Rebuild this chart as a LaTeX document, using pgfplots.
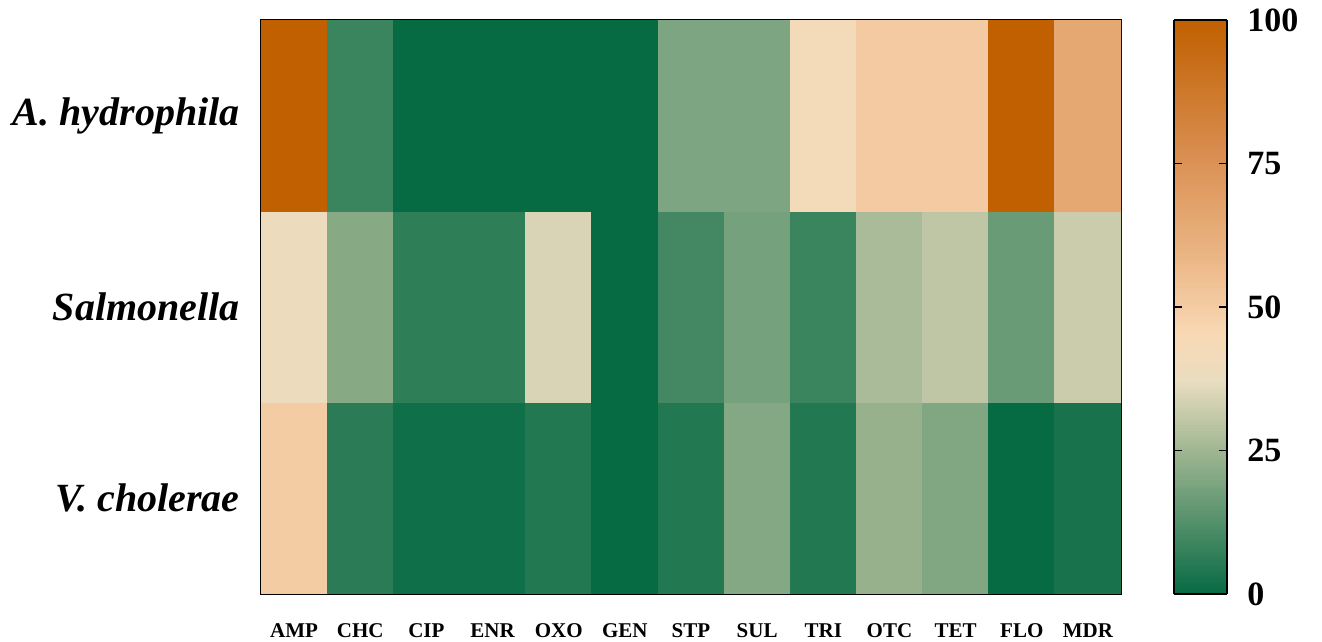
\documentclass[border=0pt]{standalone}
\usepackage{fontspec}
\setmainfont{Liberation Serif}
\usepackage{pgfplots}
\usepackage{pgfplotstable}
\pgfplotsset{compat=1.18}
% x = antibiotic index, y = row (0 = V. cholerae, 1 = Salmonella, 2 = A. hydrophila), c = value (%)
\pgfplotstableread{
x y c
0 0 50
1 0 6
2 0 1.5
3 0 1.5
4 0 4.5
5 0 0
6 0 4.5
7 0 20.5
8 0 4.5
9 0 23.5
10 0 20
11 0 0
12 0 3
0 1 39
1 1 21
2 1 6.5
3 1 6.5
4 1 34.5
5 1 0
6 1 10
7 1 18
8 1 8.5
9 1 26.5
10 1 30
11 1 16
12 1 32
0 2 100
1 2 8.5
2 2 0
3 2 0
4 2 0
5 2 0
6 2 19.5
7 2 19.5
8 2 42
9 2 51
10 2 51
11 2 100
12 2 65
}\datatable
\begin{document}
\begin{tikzpicture}
\path[use as bounding box] (-130.5pt,-24pt) rectangle (530.5pt,297pt);
\begin{axis}[
  at={(0,0)}, anchor=south west,
  scale only axis, width=430pt, height=287pt,
  xmin=-0.5, xmax=12.5, ymin=-0.5, ymax=2.5,
  xtick={0,...,12},
  xticklabels={AMP,CHC,CIP,ENR,OXO,GEN,STP,SUL,TRI,OTC,TET,FLO,MDR},
  ytick={0,1,2},
  yticklabels={V. cholerae,Salmonella,A. hydrophila},
  major tick length=0pt,
  axis line style={line width=1.2pt, black},
  xticklabel style={font=\fontsize{10.5}{12}\selectfont\bfseries, anchor=north, inner sep=0pt, yshift=-14.5pt},
  yticklabel style={font=\fontsize{20}{24}\selectfont\bfseries\itshape, anchor=east, inner sep=0pt, xshift=-10.5pt},
  colormap={amr}{rgb255(0)=(6,106,67) rgb255(25)=(160,182,146) rgb255(37)=(232,220,191) rgb255(45)=(249,217,182) rgb255(60)=(234,179,129) rgb255(75)=(219,146,86) rgb255(100)=(192,96,0)},
  point meta min=0, point meta max=100,
  colorbar sampled,
  colorbar style={
    at={(parent axis.north east)}, anchor=north west, xshift=18pt,
    scale only axis, width=26.5pt, height=287pt,
    samples=201,
    ytick={0,25,50,75,100},
    yticklabel pos=right,
    ytick pos=both,
    tick align=inside, major tick length=4pt,
    tick style={black, line width=0.8pt},
    axis line style={line width=1pt, black},
    axis on top,
    yticklabel style={font=\fontsize{17}{20}\selectfont\bfseries, /pgf/number format/assume math mode=true, anchor=west, inner sep=0pt, xshift=10pt},
  },
]
\addplot[matrix plot*, mesh/cols=13, point meta=explicit] table[x=x, y=y, meta=c] {\datatable};
\end{axis}
\end{tikzpicture}
\end{document}
